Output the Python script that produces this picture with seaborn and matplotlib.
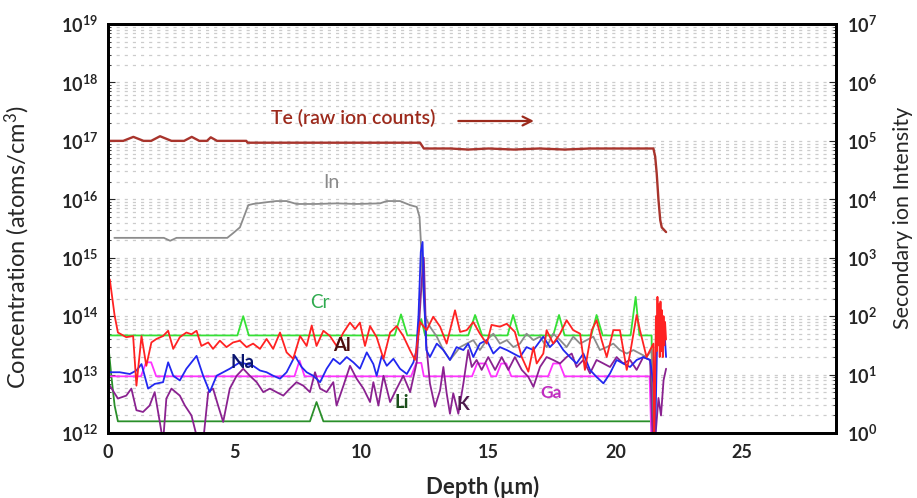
import numpy as np
import matplotlib
matplotlib.use("Agg")
import matplotlib.pyplot as plt
import matplotlib.ticker as mticker
import seaborn as sns

# ── Data: depth (um) and log10 concentration (atoms/cm3) ──
al_depth = [0.07, 0.26, 0.39, 0.72, 0.99, 1.12, 1.32, 1.51, 1.71, 1.91,
            2.17, 2.37, 2.57, 2.83, 3.09, 3.29, 3.49, 3.68, 3.95, 4.14,
            4.41, 4.67, 4.93, 5.20, 5.46, 5.72, 5.99, 6.25, 6.51, 6.78,
            7.04, 7.30, 7.57, 7.83, 8.03, 8.22, 8.49, 8.75, 9.01, 9.28,
            9.54, 9.74, 9.93, 10.13, 10.33, 10.59, 10.86, 11.12, 11.38,
            11.64, 11.90, 12.10, 12.30, 12.56, 12.82, 13.09, 13.35, 13.68, 13.88,
            14.14, 14.40, 14.66, 14.93, 15.12, 15.45, 15.72, 16.04, 16.31, 16.57,
            16.77, 16.90, 17.16, 17.29, 17.55, 17.82, 18.08, 18.34, 18.61, 18.80,
            19.07, 19.26, 19.46, 19.66, 19.92, 20.18, 20.45, 20.58, 20.84, 20.97,
            21.23, 21.37, 21.50,
            21.53, 21.60, 21.63, 21.66, 21.69, 21.72, 21.75, 21.78, 21.81, 21.84,
            21.87, 21.90, 21.93, 21.96, 22.00]
al_exp = [14.63, 14.01, 13.72, 13.64, 13.66, 12.81, 13.66, 13.15, 13.55, 13.61,
          13.66, 13.75, 13.44, 13.64, 13.72, 13.69, 13.75, 13.49, 13.55, 13.44,
          13.58, 13.47, 13.55, 13.58, 13.47, 13.53, 13.44, 13.61, 13.44, 13.72,
          13.38, 13.27, 13.66, 13.49, 13.84, 13.49, 13.75, 13.66, 13.49, 13.72,
          13.89, 13.78, 13.89, 13.49, 13.83, 13.64, 13.27, 13.72, 13.83,
          13.66, 13.42, 13.25, 13.90, 13.76, 13.99, 13.82, 13.53, 14.10, 13.73,
          13.76, 13.90, 13.70, 13.53, 13.85, 13.82, 13.87, 13.73, 13.30, 13.05,
          13.47, 13.19, 13.36, 13.76, 13.53, 13.70, 13.93, 13.76, 13.70, 13.08,
          13.76, 13.93, 13.59, 13.30, 13.76, 13.76, 13.08, 13.36, 14.02, 13.76,
          13.30, 13.42, 13.53,
          11.50, 14.00, 13.40, 14.33, 13.50, 14.20, 13.30, 14.25, 13.40, 14.10,
          13.30, 14.00, 13.50, 13.90, 13.60]

na_depth = [0.07, 0.46, 0.86, 1.12, 1.32, 1.58, 1.84, 2.17, 2.37, 2.57,
            2.83, 3.09, 3.49, 3.75, 4.01, 4.28, 4.54, 4.80, 5.20, 5.72,
            5.99, 6.25, 6.51, 6.78, 7.04, 7.37, 7.63, 7.83, 8.09, 8.36,
            8.62, 8.88, 9.14, 9.41, 9.67, 9.93, 10.20, 10.46, 10.59, 10.79,
            10.99, 11.25, 11.51, 11.78, 12.04, 12.15, 12.24, 12.33, 12.40, 12.46,
            12.55, 12.69, 12.96, 13.22, 13.48, 13.74, 14.01, 14.20, 14.40, 14.66,
            14.93, 15.19, 15.45, 15.72, 15.98, 16.24, 16.50, 16.77, 17.16, 17.42,
            17.69, 17.95, 18.21, 18.47, 18.74, 19.00, 19.26, 19.53, 19.79, 20.05,
            20.31, 20.58, 20.84, 21.10, 21.37, 21.50, 21.55, 21.65, 21.75, 21.85,
            21.95, 22.00]
na_exp = [13.04, 13.04, 13.01, 13.07, 13.18, 12.76, 12.84, 12.87, 13.21, 12.98,
          12.90, 13.10, 13.32, 12.98, 12.70, 12.98, 13.04, 13.10, 13.21, 13.15,
          13.07, 13.04, 12.98, 12.93, 13.04, 13.32, 13.13, 13.04, 12.98, 12.87,
          13.10, 13.27, 13.18, 13.30, 13.21, 13.10, 13.38, 13.18, 12.98, 13.32,
          13.15, 13.27, 13.10, 13.01, 13.21, 13.40, 14.01, 15.10, 15.27, 14.30,
          13.42, 13.30, 13.53, 13.42, 13.25, 13.47, 13.42, 13.53, 13.30, 13.53,
          13.59, 13.36, 13.47, 13.42, 13.36, 13.30, 13.47, 13.42, 13.65, 13.47,
          13.59, 13.42, 13.30, 13.19, 13.36, 13.08, 12.96, 12.85, 13.02, 13.25,
          13.19, 13.13, 13.25, 13.30, 13.25, 12.85, 11.50, 13.65, 13.70, 13.42,
          13.65, 13.30]

k_depth = [0.07, 0.39, 0.72, 0.92, 1.12, 1.38, 1.64, 1.84, 2.04, 2.17,
           2.30, 2.50, 2.83, 3.03, 3.29, 3.55, 3.75, 3.95, 4.14, 4.34,
           4.54, 4.80, 5.07, 5.33, 5.59, 5.86, 6.12, 6.38, 6.64, 6.91,
           7.17, 7.43, 7.70, 7.96, 8.16, 8.36, 8.62, 8.88, 9.01, 9.28,
           9.54, 9.80, 10.07, 10.33, 10.46, 10.66, 10.86, 11.12, 11.38, 11.64,
           11.91, 12.17, 12.37, 12.45, 12.55, 12.69, 12.89, 13.09, 13.22, 13.35,
           13.48, 13.61, 13.81, 14.01, 14.20, 14.34, 14.53, 14.73, 14.99, 15.26,
           15.52, 15.78, 16.04, 16.31, 16.57, 16.77, 17.03, 17.29, 17.55, 17.82,
           18.08, 18.28, 18.47, 18.74, 19.00, 19.26, 19.53, 19.79, 20.05, 20.31,
           20.58, 20.84, 21.10, 21.37, 21.50, 21.70, 21.80, 21.90, 22.00]
k_exp = [12.81, 12.59, 12.64, 12.76, 12.39, 12.36, 12.47, 12.70, 12.19, 11.85,
         12.59, 12.76, 12.64, 12.47, 12.30, 11.85, 11.85, 12.70, 12.76, 12.47,
         12.19, 12.76, 12.98, 13.10, 12.98, 12.87, 12.70, 12.76, 12.70, 12.64,
         12.76, 12.87, 12.81, 12.70, 13.04, 12.76, 12.70, 12.87, 12.47, 12.81,
         13.15, 12.93, 12.76, 12.53, 12.87, 12.47, 12.98, 12.53, 12.76, 12.98,
         12.70, 13.21, 14.62, 15.00, 13.50, 12.85, 12.45, 12.73, 13.13, 12.68,
         12.33, 12.68, 12.33, 12.85, 13.42, 13.13, 13.25, 13.08, 13.30, 13.08,
         13.30, 13.08, 13.30, 13.08, 12.96, 12.79, 13.13, 13.30, 13.25, 13.19,
         13.30, 13.36, 13.13, 13.25, 13.02, 13.25, 13.19, 13.13, 13.30, 13.19,
         13.25, 13.08, 13.30, 13.25, 11.50, 12.60, 12.30, 12.90, 13.10]

in_depth = [0.25, 2.20, 2.45, 2.70, 4.70, 4.93, 5.20, 5.53, 5.72, 6.25,
            6.64, 7.04, 7.43, 8.22, 9.00, 9.80, 10.72, 10.99, 11.51, 11.91,
            12.17, 12.28, 12.33, 12.40, 12.50, 12.69, 12.96, 13.22, 13.48, 13.68,
            13.88, 14.14, 14.40, 14.66, 14.93, 15.19, 15.45, 15.72, 15.98, 16.24,
            16.50, 16.77, 17.03, 17.29, 17.55, 17.82, 18.08, 18.34, 18.61, 18.87,
            19.13, 19.39, 19.66, 19.92, 20.18, 20.45, 20.71, 20.97, 21.23, 21.43,
            21.53]
in_exp = [15.34, 15.34, 15.29, 15.34, 15.34, 15.42, 15.52, 15.90, 15.92, 15.95,
          15.97, 15.97, 15.92, 15.92, 15.93, 15.92, 15.93, 15.97, 15.97, 15.90,
          15.87, 15.70, 15.30, 14.60, 14.00, 13.82, 13.65, 13.42, 13.25, 13.36,
          13.47, 13.53, 13.59, 13.42, 13.59, 13.70, 13.53, 13.59, 13.47, 13.53,
          13.70, 13.59, 13.65, 13.47, 13.70, 13.59, 13.47, 13.65, 13.53, 13.59,
          13.65, 13.42, 13.47, 13.53, 13.42, 13.36, 13.42, 13.36, 13.30, 13.42,
          12.30]

cr_depth = [0.0, 5.10, 5.33, 5.55, 11.30, 11.55, 11.80, 12.20, 12.35, 12.50,
            14.20, 14.47, 14.75, 15.75, 15.97, 16.20, 17.55, 17.78, 18.00,
            19.05, 19.26, 19.50, 20.60, 20.80, 20.95, 21.43, 21.46]
cr_exp = [13.67, 13.67, 14.00, 13.67, 13.67, 14.03, 13.67, 13.67, 13.95, 13.67,
          13.67, 14.02, 13.67, 13.67, 14.02, 13.67, 13.67, 14.02, 13.67,
          13.67, 14.02, 13.67, 13.67, 14.33, 13.67, 13.67, 11.50]

li_depth = [0.0, 0.04, 0.13, 0.26, 0.39, 7.96, 8.22, 8.49, 21.43, 21.46]
li_exp = [13.45, 13.38, 12.98, 12.47, 12.20, 12.20, 12.53, 12.20, 12.20, 11.50]

ga_depth = [0.0, 1.30, 1.50, 1.70, 1.90, 7.35, 7.55, 7.75, 11.95, 12.15,
            12.35, 12.45, 14.35, 14.55, 14.90, 15.10, 15.30, 15.50, 15.70, 15.90,
            17.35, 17.55, 17.80, 18.00, 21.35, 21.45]
ga_exp = [12.97, 12.97, 13.21, 13.21, 12.97, 12.97, 13.24, 12.97, 12.97, 13.20,
          13.20, 12.97, 12.97, 13.19, 13.19, 12.97, 12.97, 13.19, 13.19, 12.97,
          12.97, 13.19, 13.19, 12.97, 12.97, 11.50]

# Te is plotted against the right axis as raw secondary ion counts
te_depth = [0.0, 0.6, 1.0, 1.4, 1.7, 2.05, 2.5, 3.0, 3.3, 3.6,
            3.9, 4.05, 4.3, 5.45, 5.5, 12.3, 12.45, 13.5, 14.2, 15.0,
            16.0, 17.0, 18.0, 19.0, 20.0, 21.5, 21.57, 21.63, 21.70, 21.77,
            21.83, 22.0]
te_counts = [1.0e5, 1.0e5, 1.17e5, 1.0e5, 1.0e5, 1.2e5, 1.0e5, 1.0e5, 1.17e5, 1.0e5,
             1.0e5, 1.15e5, 1.0e5, 1.0e5, 9.3e4, 9.3e4, 7.4e4, 7.4e4, 7.1e4, 7.4e4,
             7.1e4, 7.4e4, 7.1e4, 7.4e4, 7.4e4, 7.4e4, 5.4e4, 2.8e4, 9.8e3, 4.4e3,
             3.3e3, 2.75e3]

x_ticks = [0, 5, 10, 15, 20, 25]

# ── Style ─────────────────────────────────────────────────────────────────────
sns.set_style("white")
plt.rcParams["font.family"] = ["Lato", "DejaVu Sans"]
plt.rcParams["mathtext.fontset"] = "custom"
plt.rcParams["mathtext.rm"] = "Lato"
plt.rcParams["mathtext.it"] = "Lato:italic"
plt.rcParams["mathtext.bf"] = "Lato:bold"

SERIES = [
    ("Cr", cr_depth, cr_exp, "#35e035"),
    ("Li", li_depth, li_exp, "#2a8f2a"),
    ("Ga", ga_depth, ga_exp, "#ff33ff"),
    ("In", in_depth, in_exp, "#8c8c8c"),
    ("K",  k_depth,  k_exp,  "#8a2290"),
    ("Na", na_depth, na_exp, "#2228f0"),
    ("Al", al_depth, al_exp, "#ff2222"),
]


def pow_label(v, pos):
    return r"$\mathbf{10^{%d}}$" % int(round(np.log10(v)))


def log_axis(a):
    a.set_yscale("log")
    a.yaxis.set_major_locator(mticker.LogLocator(base=10, numticks=20))
    a.yaxis.set_minor_locator(mticker.LogLocator(base=10, subs=range(2, 10), numticks=20))
    a.yaxis.set_major_formatter(mticker.FuncFormatter(pow_label))
    a.yaxis.set_minor_formatter(mticker.NullFormatter())


fig = plt.figure(figsize=(9.17, 4.98), dpi=100)
ax = fig.add_axes([0.1178, 0.1305, 0.7939, 0.8213])

for name, d, e, col in SERIES:
    sns.lineplot(x=d, y=10.0 ** np.array(e), ax=ax, color=col, lw=1.3,
                 sort=False, estimator=None)

log_axis(ax)
ax.set_xlim(0, 28.7)
ax.set_ylim(1e12, 1e19)
ax.grid(which="both", axis="y", color="#cccccc", lw=0.9, ls=(0, (2.5, 4)))
ax.set_axisbelow(True)

ax.set_xticks(x_ticks, labels=[str(t) for t in x_ticks], fontweight="bold")
ax.tick_params(axis="both", which="both", direction="in", labelsize=13,
               right=False, top=False)
ax.tick_params(axis="x", length=5, pad=8)
ax.tick_params(axis="y", which="major", length=5, pad=7)
ax.tick_params(axis="y", which="minor", length=2.5)

ax.set_xlabel("Depth (µm)", fontsize=16, fontweight="bold")
ax.xaxis.set_label_coords(0.514, -0.105)
ax.set_ylabel("Concentration (atoms/cm$^3$)", fontsize=17)
ax.yaxis.set_label_coords(-0.104, 0.455)

# right axis: secondary ion intensity (Te raw counts)
ax2 = ax.twinx()
sns.lineplot(x=te_depth, y=te_counts, ax=ax2, color="#a8342c", lw=1.7,
             sort=False, estimator=None)
log_axis(ax2)
ax2.set_ylim(1, 1e7)
ax2.set_xlim(0, 28.7)
ax2.set_xlabel("")
ax2.tick_params(axis="y", which="both", direction="in", labelsize=13, left=False)
ax2.tick_params(axis="y", which="major", length=5, pad=8)
ax2.tick_params(axis="y", which="minor", length=2.5)
ax2.set_ylabel("Secondary ion Intensity", fontsize=15.5)
ax2.yaxis.set_label_coords(1.078, 0.526)

for a in (ax, ax2):
    for sp in a.spines.values():
        sp.set_linewidth(2.0)
        sp.set_color("black")

# ── Labels on the curves ─────────────────────────────────────────────────────
ax.text(9.66, 10 ** 17.39, "Te (raw ion counts)", color="#9c2a1c",
        fontsize=14, fontweight="semibold", ha="center", va="center")
ax.annotate("", xy=(16.9, 10 ** 17.34), xytext=(13.7, 10 ** 17.34),
            arrowprops=dict(arrowstyle="->", color="#9c2a1c", lw=1.6,
                            mutation_scale=16))
ax.text(8.79, 10 ** 16.28, "In", color="#8a8a8a", fontsize=14,
        ha="center", va="center")
ax.text(8.36, 10 ** 14.24, "Cr", color="#2eaa4e", fontsize=13.5,
        ha="center", va="center")
ax.text(5.32, 10 ** 13.21, "Na", color="#0b1670", fontsize=13.5,
        fontweight="bold", ha="center", va="center")
ax.text(9.23, 10 ** 13.49, "Al", color="#4d0e0e", fontsize=13.5,
        fontweight="bold", ha="center", va="center")
ax.text(11.59, 10 ** 12.53, "Li", color="#1b4f1b", fontsize=13.5,
        fontweight="bold", ha="center", va="center")
ax.text(14.0, 10 ** 12.49, "K", color="#4d1a4d", fontsize=13.5,
        fontweight="bold", ha="center", va="center")
ax.text(17.47, 10 ** 12.68, "Ga", color="#c02cc0", fontsize=12.5,
        fontweight="bold", ha="center", va="center")

fig.savefig("out.png", dpi=100)
